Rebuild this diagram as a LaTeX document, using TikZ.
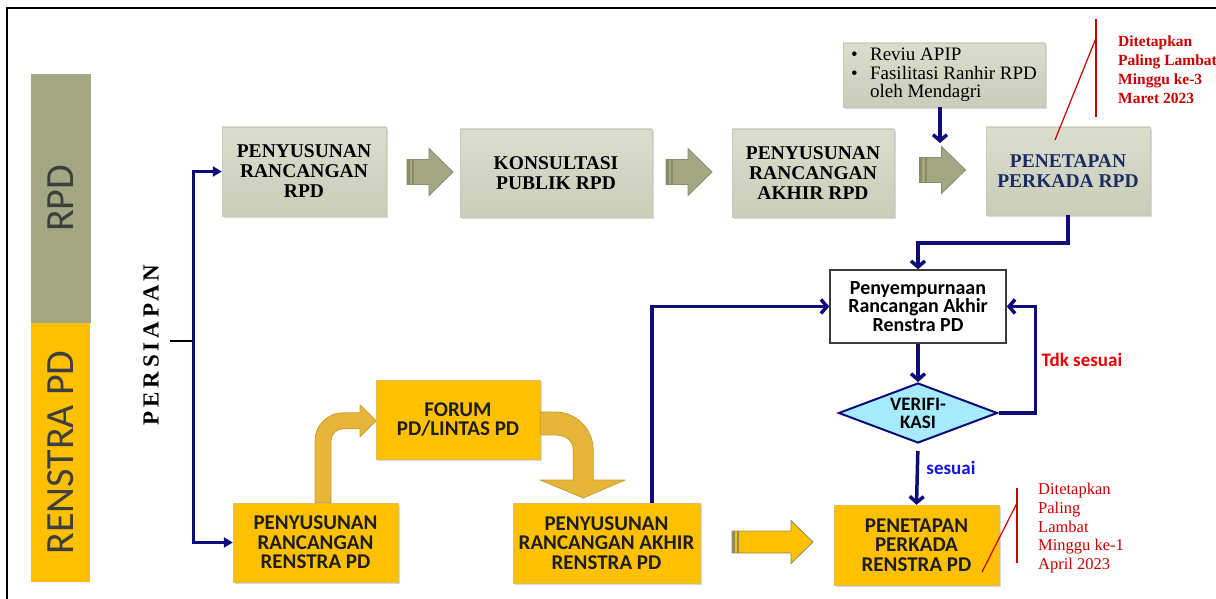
\documentclass[tikz,border=0pt]{standalone}
\usepackage{fontspec}
\setmainfont{Liberation Serif}
\setsansfont{Carlito}
\newfontfamily\spacedfont[LetterSpace=17]{Liberation Serif}
\usepackage{tikz}
\usetikzlibrary{calc,positioning,arrows.meta,shapes.geometric,shadows}

\definecolor{rpdolive}{RGB}{164,168,130}
\definecolor{rpdlight}{RGB}{219,221,206}
\definecolor{rpddark}{RGB}{203,205,186}
\definecolor{rpdedge}{RGB}{200,202,184}
\definecolor{arrowedge}{RGB}{135,139,104}
\definecolor{rsgold}{RGB}{255,192,0}
\definecolor{rsedge}{RGB}{222,190,90}
\definecolor{curvegold}{RGB}{231,181,58}
\definecolor{curveedge}{RGB}{200,158,50}
\definecolor{flownavy}{RGB}{12,12,122}
\definecolor{notered}{RGB}{200,0,0}
\definecolor{verifcyan}{RGB}{166,234,251}
\definecolor{perkadanavy}{RGB}{25,45,100}
\definecolor{bandtext}{RGB}{62,62,62}

\tikzset{
  boxshadow/.style={drop shadow={shadow xshift=1.5pt,shadow yshift=-2pt,opacity=0.3}},
  rpdbox/.style={
    draw=rpdedge, top color=rpdlight, bottom color=rpddark,
    inner sep=2pt, align=center, boxshadow,
    font=\fontsize{19.5}{20}\selectfont\bfseries
    },
  rsbox/.style={
    draw=rsedge, fill=rsgold, inner sep=2pt, align=center, boxshadow,
    text={rgb,255:red,30;green,30;blue,30},
    font=\sffamily\bfseries\fontsize{21}{19.5}\selectfont
    },
  bandbox/.style={
    rotate=90, inner sep=0pt, text=bandtext,
    font=\sffamily\fontsize{40}{40}\selectfont
    },
  prepline/.style={draw=flownavy, line width=3pt, -{Triangle[length=9pt,width=10pt]}},
  flow/.style={draw=flownavy, line width=3.5pt, -{Straight Barb[length=6pt,width=14pt]}},
  noteline/.style={draw=notered, line width=1.2pt},
  notetext/.style={anchor=north west, inner sep=0pt, align=left, text=notered},
  curvearrow/.style={fill=curvegold, draw=curveedge, line width=0.8pt, line join=round}
}

% block arrow: centre, tail, head base, tip, shaft half, head half, fill, edge
\newcommand{\blockarrow}[8]{%
  \begin{scope}[shift={#1}]
    \draw[fill=#7, draw=#8, line width=0.8pt]
      (-#2,-#5) -- (#3,-#5) -- (#3,-#6) -- (#4,0) -- (#3,#6) -- (#3,#5) -- (-#2,#5) -- cycle;
    \fill[#8] (-#2,-#5) rectangle ++(2.5,2*#5);
    \fill[#8] ($(-#2,-#5)+(5,0)$) rectangle ++(2,2*#5);
  \end{scope}}

\begin{document}
\begin{tikzpicture}[x=1pt, y=-1pt, >=latex]
  \useasboundingbox (0,0) rectangle (1216,599);
  \draw[line width=2pt] (7,599) -- (7,8) -- (1216,8);

  % side bands
  \node[bandbox, fill=rpdolive, minimum width=249pt, minimum height=60pt] (bandrpd) at (61,198.5) {RPD};
  \node[bandbox, fill=rsgold, minimum width=259pt, minimum height=59pt] (bandrs) at (60.5,452.5) {RENSTRA PD};

  \node[rotate=90, inner sep=0pt, font=\spacedfont\bfseries\fontsize{23}{23}\selectfont] (persiapan) at (151,345) {PERSIAPAN};

  % RPD row
  \node[rpdbox, minimum width=164pt, minimum height=89pt] (rpd1) at (304,171.5) {PENYUSUNAN\\RANCANGAN\\RPD};
  \node[rpdbox, minimum width=192pt, minimum height=88pt] (rpd2) at (556,173) {KONSULTASI\\PUBLIK RPD};
  \node[rpdbox, minimum width=162pt, minimum height=88pt] (rpd3) at (813,173) {PENYUSUNAN\\RANCANGAN\\AKHIR RPD};
  \node[rpdbox, minimum width=164pt, minimum height=88pt, text=perkadanavy] (rpd4) at (1068,171) {PENETAPAN\\PERKADA RPD};
  \node[rpdbox, minimum width=202pt, minimum height=64pt, align=left,
        font=\fontsize{19}{18.5}\selectfont] (reviu) at (944,75)
    {\makebox[19pt][l]{\textbullet}Reviu APIP\\
     \makebox[19pt][l]{\textbullet}Fasilitasi Ranhir RPD\\
     \hspace*{19pt}oleh Mendagri};

  \blockarrow{(430,172)}{23}{-1}{23}{12.5}{23.5}{rpdolive}{arrowedge}
  \blockarrow{(689,172)}{23}{-1}{23}{12.5}{23.5}{rpdolive}{arrowedge}
  \blockarrow{(942.5,170)}{23}{-1}{23}{12.5}{23.5}{rpdolive}{arrowedge}

  % Renstra row
  \node[rsbox, minimum width=165pt, minimum height=79pt] (rs1) at (315.5,542.5) {PENYUSUNAN\\RANCANGAN\\RENSTRA PD};
  \node[rsbox, minimum width=164pt, minimum height=79pt] (forum) at (458,419.5) {FORUM\\PD/LINTAS PD};
  \node[rsbox, minimum width=187pt, minimum height=80pt] (rs3) at (606.5,543) {PENYUSUNAN\\RANCANGAN AKHIR\\RENSTRA PD};
  \node[rsbox, minimum width=165pt, minimum height=80pt] (rs4) at (916.5,545) {PENETAPAN\\PERKADA\\RENSTRA PD};

  \node[draw={rgb,255:red,60;green,60;blue,60}, line width=1.5pt, fill=white,
        minimum width=176pt, minimum height=73pt, inner sep=2pt, align=center,
        font=\sffamily\bfseries\fontsize{20}{18.5}\selectfont] (pen) at (918,306.5)
    {Penyempurnaan\\Rancangan Akhir\\Renstra PD};
  \node[diamond, aspect=2.65, draw=flownavy, line width=2pt, fill=verifcyan,
        minimum width=159pt, minimum height=60pt, inner sep=0pt, align=center,
        font=\sffamily\bfseries\fontsize{19}{18}\selectfont] (verif) at (918,413) {VERIFI-\\KASI};

  \blockarrow{(772,542)}{40}{19}{41}{11}{21.5}{rsgold}{arrowedge}

  \begin{scope}[shift={(rs1.north)}]
    \draw[curvearrow] (-0.5,0) -- (-0.5,-62) .. controls (-0.5,-77.4) and (12.1,-90) .. (27.5,-90)
      -- (44.5,-90) -- (44.5,-98) -- (60.5,-82) -- (44.5,-66) -- (44.5,-74) -- (27.5,-74)
      .. controls (20.9,-74) and (15.5,-68.6) .. (15.5,-62) -- (15.5,0) -- cycle;
  \end{scope}
  \begin{scope}[shift={(forum.east)}]
    \draw[curvearrow] (0,-7.5) -- (15,-7.5) .. controls (36,-7.5) and (53,9.5) .. (53,30.5)
      -- (53,60.5) -- (85,60.5) -- (43,78.5) -- (0,60.5) -- (33,60.5) -- (33,30.5)
      .. controls (33,20.5) and (25,15.5) .. (15,15.5) -- (0,15.5) -- cycle;
  \end{scope}

  % connectors
  \coordinate (tickstart) at (170,341);
  \coordinate (split) at (193,341);
  \draw[line width=1.5pt] (tickstart) -- (split);
  \draw[prepline] (split) |- (rpd1.west);
  \draw[prepline] (split) |- (rs1.west);

  \coordinate (revend) at (940,143);
  \draw[flow] (reviu.south -| revend) -- (revend);
  \draw[flow] (rpd4.south) -- ++(0,28) -| (pen.north);
  \draw[flow] ([xshift=45.5pt]rs3.north) |- (pen.west);
  \draw[flow] (pen.south) -- (verif.north);
  \draw[flow] (verif.east) -- ++(37,0) |- node[pos=0.25, right=1pt, text={rgb,255:red,230;green,0;blue,0},
        font=\sffamily\bfseries\fontsize{19}{19}\selectfont] {Tdk sesuai} (pen.east);
  \draw[flow, shorten <=7pt] (verif.south) -- node[pos=0.4, right=4pt, text={rgb,255:red,20;green,20;blue,230},
        font=\sffamily\bfseries\fontsize{19}{19}\selectfont] {sesuai} (rs4.north);

  % deadlines
  \coordinate (notetopa) at (1096,19);
  \coordinate (notetopb) at (1096,117);
  \coordinate (notetopc) at (1096,38);
  \coordinate (notetopd) at (1055,140);
  \draw[noteline] (notetopa) -- (notetopb);
  \draw[noteline] (notetopd) -- (notetopc);
  \node[notetext, font=\bfseries\fontsize{15.5}{18.7}\selectfont] (notetop) at (1118,36)
    {Ditetapkan\\Paling Lambat\\Minggu ke-3\\Maret 2023};

  \coordinate (notebota) at (1017,488);
  \coordinate (notebotb) at (1017,563);
  \coordinate (notebotc) at (1017,503);
  \coordinate (notebotd) at (982,572);
  \draw[noteline] (notebota) -- (notebotb);
  \draw[noteline] (notebotd) -- (notebotc);
  \node[notetext, font=\fontsize{16.5}{18.7}\selectfont] (notebottom) at (1038,483)
    {Ditetapkan\\Paling\\Lambat\\Minggu ke-1\\April 2023};
\end{tikzpicture}
\end{document}
